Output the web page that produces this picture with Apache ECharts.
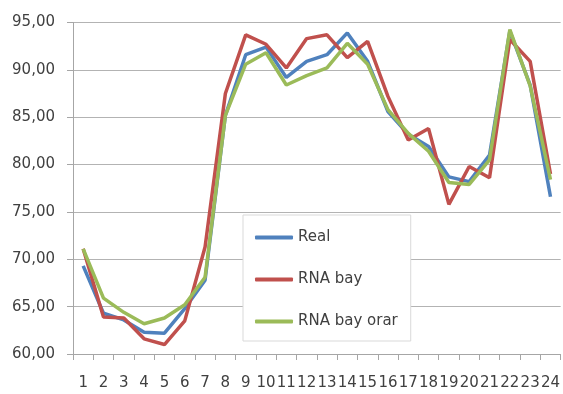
<!DOCTYPE html>
<html>
<head>
<meta charset="utf-8">
<script src="https://cdn.jsdelivr.net/npm/echarts@6/dist/echarts.min.js"></script>
<style>
html,body{margin:0;padding:0;background:#fff;}
#c{width:563px;height:394px;}
</style>
</head>
<body>
<div id="c"></div>
<script>
const categories = ['1','2','3','4','5','6','7','8','9','10','11','12','13','14','15','16','17','18','19','20','21','22','23','24'];
const real = [69.3,64.3,63.6,62.3,62.2,64.8,67.8,85.2,91.6,92.4,89.2,90.9,91.6,93.9,90.9,85.6,83.2,81.9,78.7,78.2,81.0,94.1,88.4,76.6];
const rnaBay = [71.1,63.9,63.8,61.6,61.0,63.5,71.3,87.5,93.7,92.7,90.2,93.3,93.7,91.3,93.0,87.2,82.6,83.8,75.8,79.8,78.6,93.2,90.9,79.0];
const rnaBayOrar = [71.1,65.9,64.4,63.2,63.8,65.2,68.1,85.2,90.6,91.8,88.4,89.4,90.2,92.8,90.6,85.8,83.3,81.4,78.1,77.9,80.5,94.25,88.3,78.4];
const seriesNames = ['Real','RNA bay','RNA bay orar'];
const yTicks = {min:60, max:95, interval:5};

const chart = echarts.init(document.getElementById('c'), null, {renderer:'canvas'});
const font = 'DejaVu Sans';
const mk = (name, data, color) => ({
  name, type:'line', data, symbol:'none', smooth:false,
  lineStyle:{color, width:3.5}, itemStyle:{color}, z:3
});
chart.setOption({
  animation:false,
  backgroundColor:'#fff',
  grid:{left:73, right:1, top:22.5, bottom:40, containLabel:false},
  legend:{
    orient:'vertical', left:243, top:215,
    padding:[15,13,12,12], itemGap:27,
    itemWidth:38, itemHeight:4, icon:'roundRect',
    backgroundColor:'#fff', borderColor:'#d9d9d9', borderWidth:1,
    textStyle:{fontFamily:font, fontSize:15, color:'#404040'},
    data:seriesNames, z:10
  },
  xAxis:{
    type:'category', data:categories, boundaryGap:true,
    axisLine:{lineStyle:{color:'#a6a6a6', width:1}},
    axisTick:{show:true, length:6, inside:false, alignWithLabel:false, lineStyle:{color:'#a6a6a6'}},
    axisLabel:{interval:0, margin:22, fontFamily:font, fontSize:15, color:'#404040'},
    splitLine:{show:false}
  },
  yAxis:{
    type:'value', min:yTicks.min, max:yTicks.max, interval:yTicks.interval,
    axisLine:{show:true, lineStyle:{color:'#a6a6a6', width:1}},
    axisTick:{show:true, length:6, lineStyle:{color:'#a6a6a6'}},
    axisLabel:{margin:18, fontFamily:font, fontSize:15, color:'#404040',
      formatter:v=>v.toFixed(2).replace('.',',')},
    splitLine:{show:true, lineStyle:{color:'#b3b3b3', width:1}}
  },
  series:[
    mk(seriesNames[0], real, '#4F81BD'),
    mk(seriesNames[1], rnaBay, '#C0504D'),
    mk(seriesNames[2], rnaBayOrar, '#9BBB59')
  ]
});
</script>
</body>
</html>
